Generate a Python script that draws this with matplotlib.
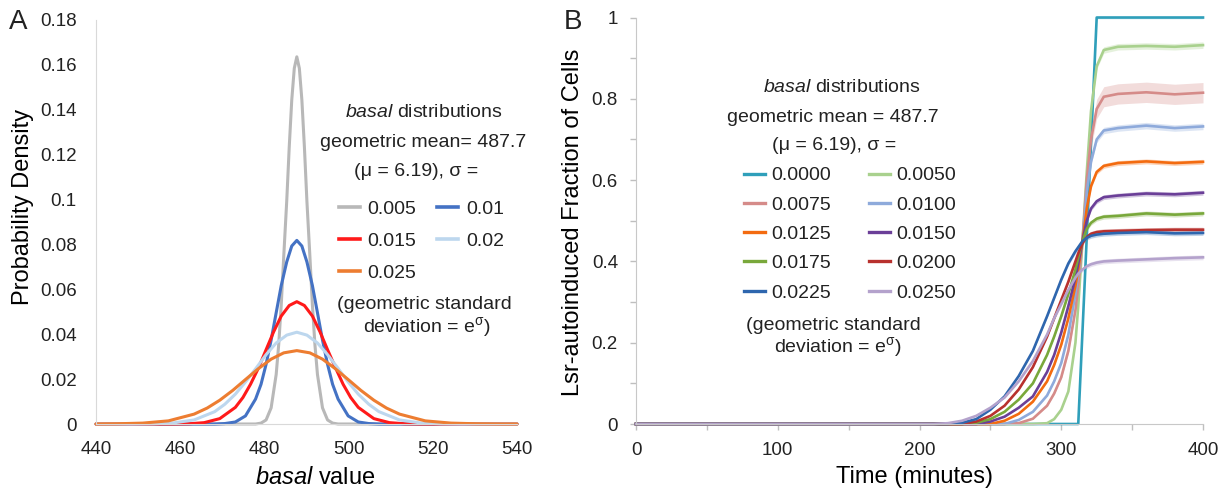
import matplotlib.pyplot as plt
import numpy as np
from matplotlib.lines import Line2D

plt.rcParams['font.family'] = ['Liberation Sans', 'DejaVu Sans']
plt.rcParams['mathtext.fontset'] = 'custom'
plt.rcParams['mathtext.rm'] = 'Liberation Sans'
plt.rcParams['mathtext.it'] = 'Liberation Sans:italic'
plt.rcParams['text.color'] = '#222222'

# ---- panel A: basal distributions ----
sigma_a = ['0.005', '0.01', '0.015', '0.02', '0.025']
colors_a = ['#b8b8b8', '#4472c4', '#ff1a1a', '#bdd7ee', '#ed7d31']

x_005 = [440, 477.9, 479.2, 480.4, 481.6, 482.8, 483.4, 484.0, 484.6, 485.3, 485.9, 486.5, 487.1, 487.7,
         488.3, 488.9, 489.5, 490.1, 490.8, 491.4, 492.0, 492.6, 493.8, 495.0, 496.2, 497.5, 540]
y_005 = [0, 0.0, 0.0004, 0.0018, 0.0072, 0.0221, 0.0354, 0.0531, 0.0749, 0.0992, 0.1235, 0.1444, 0.1585, 0.1636,
         0.1585, 0.1444, 0.1235, 0.0992, 0.0749, 0.0531, 0.0354, 0.0221, 0.0072, 0.0018, 0.0004, 0.0, 0]

x_010 = [440, 468.2, 470.6, 473.1, 475.5, 477.9, 479.2, 480.4, 481.6, 482.8, 484.0, 485.3, 486.5, 487.7,
         488.9, 490.1, 491.4, 492.6, 493.8, 495.0, 496.2, 497.5, 499.9, 502.3, 504.8, 507.2, 540]
y_010 = [0, 0.0, 0.0002, 0.0009, 0.0036, 0.0111, 0.0177, 0.0266, 0.0374, 0.0496, 0.0617, 0.0722, 0.0793, 0.0818,
         0.0793, 0.0722, 0.0617, 0.0496, 0.0374, 0.0266, 0.0177, 0.0111, 0.0036, 0.0009, 0.0002, 0.0, 0]

x_015 = [440, 458.4, 462.1, 465.7, 469.4, 473.1, 474.9, 476.7, 478.6, 480.4, 482.2, 484.0, 485.9, 487.7,
         489.5, 491.4, 493.2, 495.0, 496.9, 498.7, 500.5, 502.3, 506.0, 509.7, 513.3, 517.0, 540]
y_015 = [0, 0.0, 0.0001, 0.0006, 0.0024, 0.0074, 0.0118, 0.0177, 0.0250, 0.0331, 0.0411, 0.0481, 0.0528, 0.0545,
         0.0528, 0.0481, 0.0411, 0.0331, 0.0250, 0.0177, 0.0118, 0.0074, 0.0024, 0.0006, 0.0001, 0.0, 0]

x_020 = [440, 448.7, 453.6, 458.4, 463.3, 468.2, 470.6, 473.1, 475.5, 478.0, 480.4, 482.8, 485.3, 487.7,
         490.1, 492.6, 495.0, 497.5, 499.9, 502.3, 504.8, 507.2, 512.1, 517.0, 521.8, 526.7, 540]
y_020 = [0, 0.0, 0.0001, 0.0005, 0.0018, 0.0055, 0.0088, 0.0133, 0.0187, 0.0248, 0.0309, 0.0361, 0.0396, 0.0409,
         0.0396, 0.0361, 0.0309, 0.0248, 0.0187, 0.0133, 0.0088, 0.0055, 0.0018, 0.0005, 0.0001, 0.0, 0]

x_025 = [440, 445.0, 451.1, 457.2, 463.3, 466.4, 469.4, 472.5, 475.5, 478.6, 481.6, 484.6, 487.7,
         490.8, 493.8, 496.8, 499.9, 502.9, 506.0, 509.0, 512.1, 518.2, 524.3, 530.4, 536.5, 540]
y_025 = [0.0000, 0.0001, 0.0004, 0.0014, 0.0044, 0.0071, 0.0106, 0.0150, 0.0198, 0.0247, 0.0289, 0.0317, 0.0327,
         0.0317, 0.0289, 0.0247, 0.0198, 0.0150, 0.0106, 0.0071, 0.0044, 0.0014, 0.0004, 0.0001, 0.0000, 0.0]

curves_a = [(x_005, y_005), (x_010, y_010), (x_015, y_015), (x_020, y_020), (x_025, y_025)]

# ---- panel B: fraction of autoinduced cells over time ----
sigma_b = ['0.0000', '0.0050', '0.0075', '0.0100', '0.0125', '0.0150', '0.0175', '0.0200', '0.0225', '0.0250']
colors_b = ['#2f9fba', '#a9d18e', '#d58b89', '#8eaadb', '#f36b10', '#6b3f98', '#79a83b', '#b8312e', '#2e66ae', '#b4a2cc']
spread_b = [0.003, 0.008, 0.025, 0.008, 0.006, 0.006, 0.006, 0.006, 0.006, 0.006]

minutes = [0, 210, 220, 230, 240, 250, 260, 270, 280, 290, 295, 300, 305, 310, 312, 315, 318, 321, 325, 330, 340, 360, 380, 400]
frac_0000 = [0, 0, 0, 0, 0, 0, 0, 0, 0, 0, 0, 0, 0, 0, 0, 0.23, 0.46, 0.69, 1.0, 1.0, 1.0, 1.0, 1.0, 1.0]
frac_0050 = [0, 0, 0, 0, 0, 0, 0, 0, 0, 0.002, 0.012, 0.035, 0.08, 0.2, 0.29, 0.45, 0.62, 0.77, 0.88, 0.92, 0.928, 0.93, 0.928, 0.932]
frac_0075 = [0, 0, 0, 0, 0, 0, 0, 0.002, 0.013, 0.045, 0.075, 0.115, 0.18, 0.28, 0.34, 0.45, 0.6, 0.7, 0.775, 0.805, 0.812, 0.816, 0.811, 0.815]
frac_0100 = [0, 0, 0, 0, 0, 0, 0, 0.01, 0.03, 0.07, 0.105, 0.15, 0.22, 0.32, 0.37, 0.45, 0.57, 0.645, 0.70, 0.722, 0.728, 0.734, 0.728, 0.732]
frac_0125 = [0, 0, 0, 0, 0, 0, 0.008, 0.025, 0.055, 0.105, 0.145, 0.195, 0.26, 0.34, 0.38, 0.45, 0.53, 0.585, 0.62, 0.635, 0.642, 0.646, 0.642, 0.645]
frac_0150 = [0, 0, 0, 0, 0, 0.006, 0.018, 0.04, 0.068, 0.128, 0.17, 0.225, 0.29, 0.36, 0.395, 0.45, 0.5, 0.53, 0.548, 0.558, 0.562, 0.567, 0.565, 0.569]
frac_0175 = [0, 0, 0, 0, 0.003, 0.012, 0.03, 0.06, 0.1, 0.17, 0.215, 0.265, 0.32, 0.38, 0.41, 0.45, 0.48, 0.495, 0.505, 0.51, 0.512, 0.518, 0.515, 0.518]
frac_0200 = [0, 0, 0, 0, 0.006, 0.02, 0.045, 0.085, 0.14, 0.215, 0.26, 0.305, 0.35, 0.40, 0.42, 0.445, 0.46, 0.468, 0.472, 0.474, 0.475, 0.477, 0.478, 0.478]
frac_0225 = [0, 0, 0, 0.003, 0.012, 0.035, 0.068, 0.118, 0.18, 0.265, 0.31, 0.355, 0.395, 0.425, 0.435, 0.45, 0.458, 0.463, 0.466, 0.468, 0.47, 0.472, 0.469, 0.47]
frac_0250 = [0, 0, 0.002, 0.008, 0.02, 0.04, 0.065, 0.105, 0.155, 0.22, 0.26, 0.295, 0.33, 0.36, 0.37, 0.38, 0.388, 0.393, 0.397, 0.40, 0.402, 0.405, 0.408, 0.41]

series_b = [frac_0000, frac_0050, frac_0075, frac_0100, frac_0125,
            frac_0150, frac_0175, frac_0200, frac_0225, frac_0250]

W, H = 1222, 490
fig = plt.figure(figsize=(W / 100, H / 100), dpi=100)

def px(x0, y0, x1, y1):
    # figure pixel box -> axes rect
    return [x0 / W, 1 - y1 / H, (x1 - x0) / W, (y1 - y0) / H]

axA = fig.add_axes(px(96, 20, 517, 424))
axB = fig.add_axes(px(636, 17.5, 1203, 424))

# ---------- panel A ----------
for (xs, ys), c in zip(curves_a, colors_a):
    axA.plot(xs, ys, color=c, lw=2.2, solid_capstyle='round', clip_on=False)

axA.set_xlim(440, 540)
axA.set_ylim(0, 0.18)
axA.set_xticks(range(440, 541, 20))
axA.set_yticks(np.arange(0, 0.181, 0.02))
axA.set_yticklabels(['0', '0.02', '0.04', '0.06', '0.08', '0.1', '0.12', '0.14', '0.16', '0.18'])
axA.tick_params(axis='both', length=0, labelsize=13.5, labelcolor='#222222')
axA.tick_params(axis='y', pad=14)
axA.tick_params(axis='x', pad=12)
for s in ['top', 'right']:
    axA.spines[s].set_visible(False)
for s in ['left', 'bottom']:
    axA.spines[s].set_color('#d9d9d9')
axA.set_ylabel('Probability Density', fontsize=17)
axA.yaxis.label.set_va('center')
axA.yaxis.set_label_coords(-0.173, 0.537)
axA.set_xlabel('$\\it{basal}$ value', fontsize=17)
axA.xaxis.label.set_va('center')
axA.xaxis.set_label_coords(0.52, -0.134)

axA.text(0.779, 0.770, '$\\it{basal}$ distributions', transform=axA.transAxes, ha='center', va='center', fontsize=14)
axA.text(0.777, 0.698, 'geometric mean= 487.7', transform=axA.transAxes, ha='center', va='center', fontsize=14)
axA.text(0.760, 0.626, '(\u03bc = 6.19), \u03c3 =', transform=axA.transAxes, ha='center', va='center', fontsize=14)
axA.text(0.781, 0.295, '(geometric standard', transform=axA.transAxes, ha='center', va='center', fontsize=14)
axA.text(0.786, 0.240, 'deviation = e$^{\\mathregular{\u03c3}}$)', transform=axA.transAxes, ha='center', va='center', fontsize=14)

hA = [Line2D([], [], color=c, lw=2.6) for c in colors_a]
order_a = [0, 2, 4, 1, 3]
axA.legend([hA[i] for i in order_a], [sigma_a[i] for i in order_a], ncol=2, frameon=False,
           loc='center left', bbox_to_anchor=(0.577, 0.453), fontsize=14,
           handlelength=1.08, handletextpad=0.4, columnspacing=1.05, labelspacing=0.75,
           borderpad=0, borderaxespad=0)

# ---------- panel B ----------
for vals, c, sp in zip(series_b, colors_b, spread_b):
    v = np.array(vals)
    band = sp * v / v[-1]
    axB.fill_between(minutes, np.clip(v - band, 0, None), v + band, color=c, alpha=0.3, lw=0)
for vals, c in zip(series_b, colors_b):
    axB.plot(minutes, vals, color=c, lw=1.9, clip_on=False)

axB.set_xlim(0, 400)
axB.set_ylim(0, 1)
axB.set_xticks(range(0, 401, 100))
axB.set_xticks(range(50, 400, 100), minor=True)
axB.set_yticks(np.arange(0, 1.01, 0.2))
axB.set_yticks(np.arange(0.1, 1.0, 0.2), minor=True)
axB.set_yticklabels(['0', '0.2', '0.4', '0.6', '0.8', '1'])
axB.tick_params(axis='both', which='both', direction='out', length=4, width=1, color='#bfbfbf')
axB.tick_params(axis='both', which='major', labelsize=13.5, labelcolor='#222222')
axB.tick_params(axis='y', which='major', pad=9)
axB.tick_params(axis='x', which='major', pad=9)
for s in ['top', 'right']:
    axB.spines[s].set_visible(False)
for s in ['left', 'bottom']:
    axB.spines[s].set_color('#c8c8c8')
axB.set_ylabel('Lsr-autoinduced Fraction of Cells', fontsize=17)
axB.yaxis.label.set_va('center')
axB.yaxis.set_label_coords(-0.111, 0.497)
axB.set_xlabel('Time (minutes)', fontsize=17)
axB.xaxis.label.set_va('center')
axB.xaxis.set_label_coords(0.4916, -0.130)

axB.text(0.363, 0.827, '$\\it{basal}$ distributions', transform=axB.transAxes, ha='center', va='center', fontsize=14)
axB.text(0.347, 0.755, 'geometric mean = 487.7', transform=axB.transAxes, ha='center', va='center', fontsize=14)
axB.text(0.349, 0.684, '(\u03bc = 6.19), \u03c3 =', transform=axB.transAxes, ha='center', va='center', fontsize=14)
axB.text(0.348, 0.2435, '(geometric standard', transform=axB.transAxes, ha='center', va='center', fontsize=14)
axB.text(0.356, 0.189, 'deviation = e$^{\\mathregular{\u03c3}}$)', transform=axB.transAxes, ha='center', va='center', fontsize=14)

hB = [Line2D([], [], color=c, lw=2.4) for c in colors_b]
order_b = [0, 2, 4, 6, 8, 1, 3, 5, 7, 9]
axB.legend([hB[i] for i in order_b], [sigma_b[i] for i in order_b], ncol=2, frameon=False,
           loc='center left', bbox_to_anchor=(0.1905, 0.467), fontsize=14,
           handlelength=1.08, handletextpad=0.3, columnspacing=2.0, labelspacing=0.6,
           borderpad=0, borderaxespad=0)

fig.text(18 / W, 1 - 22 / H, 'A', fontsize=20, ha='center', va='center')
fig.text(573 / W, 1 - 22 / H, 'B', fontsize=20, ha='center', va='center')

fig.savefig('out.png', dpi=100)
